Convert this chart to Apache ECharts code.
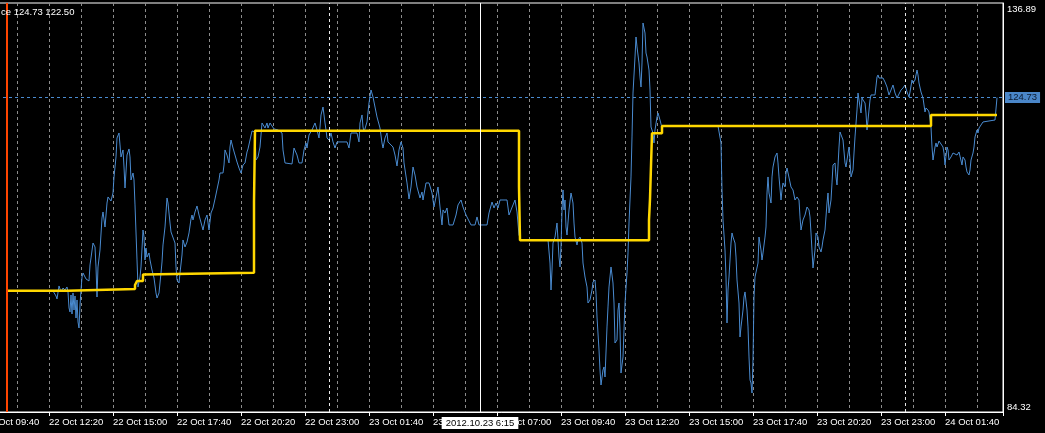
<!DOCTYPE html>
<html><head><meta charset="utf-8">
<script src="https://cdn.jsdelivr.net/npm/echarts@6/dist/echarts.min.js"></script>
<style>html,body{margin:0;padding:0;background:#000;overflow:hidden}#c{width:1045px;height:433px}</style>
</head><body><div id="c"></div>
<script>
// x values: minutes after 22 Oct 09:40 (5-minute bars)
const timeTickLabels = ['22 Oct 09:40','22 Oct 12:20','22 Oct 15:00','22 Oct 17:40','22 Oct 20:20','22 Oct 23:00',
  '23 Oct 01:40','23 Oct 04:20','23 Oct 07:00','23 Oct 09:40','23 Oct 12:20','23 Oct 15:00','23 Oct 17:40',
  '23 Oct 20:20','23 Oct 23:00','24 Oct 01:40'];
const priceLabels = ['84.32', '136.89'];
const daySeparators = [860, 2300];       // 23 Oct 00:00, 24 Oct 00:00
const markerTime = 55;                   // orange vertical marker
const crossTime = 1237.5;                // crosshair
const crossLabel = '2012.10.23 6:15';
const viewEnd = 2545;

// close price line
const closeSeries = [
[170,99.87],[177.5,99.23],[180,98.85],[185,100.52],[190,99.75],[195,100.26],[200,100.00],[205,100.39],[207.5,99.75],[210,97.69],[212.5,97.18],[215,99.36],[217.5,96.92],[220,99.62],[222.5,97.43],[225,99.23],[227.5,96.40],[230,98.72],[232.5,95.89],[235,95.12],[237.5,98.07],[240,100.00],[242.5,101.67],[245,102.19],[250,102.06],[252.5,101.42],[260,101.16],[262.5,103.22],[265,104.12],[270,106.04],[275,105.53],[277.5,102.96],[280,99.10],[282.5,102.96],[287.5,105.14],[292.5,109.26],[295,110.03],[300,108.10],[305,111.18],[307.5,111.96],[312.5,111.96],[315,111.44],[320,112.47],[322.5,114.53],[327.5,117.10],[330,119.54],[335,120.18],[337.5,118.64],[340,117.10],[345,118.00],[347.5,115.81],[350,113.11],[355,117.35],[360,118.13],[362.5,117.10],[365,114.14],[370,115.04],[372.5,114.14],[375,110.93],[380,103.86],[382.5,100.39],[387.5,101.67],[390,102.96],[395,107.71],[397.5,106.81],[400,103.86],[402.5,105.40],[405,104.24],[410,104.76],[412.5,103.86],[417.5,102.57],[422.5,101.54],[427.5,99.62],[430,98.97],[435,99.62],[440,102.19],[442.5,103.60],[445,105.79],[450,108.10],[455,111.83],[457.5,111.18],[462.5,108.61],[465,107.46],[470,107.33],[475,106.04],[477.5,102.96],[480,101.29],[485,100.90],[487.5,102.19],[492.5,104.50],[495,106.43],[500,105.53],[505,106.17],[510,107.33],[515,109.13],[517.5,109.64],[520,109.00],[525,110.03],[530,110.80],[535,109.64],[540,109.39],[545,107.71],[550,109.00],[555,109.64],[560,107.71],[565,109.90],[570,110.54],[575,111.70],[580,111.83],[585,114.14],[587.5,115.04],[595,115.04],[597.5,116.07],[600,118.00],[605,117.35],[610,116.33],[612.5,118.38],[615,119.28],[620,118.25],[625,118.25],[630,116.45],[635,115.68],[640,115.04],[645,116.07],[650,116.33],[655,117.74],[657.5,118.13],[662.5,119.28],[667.5,120.44],[670,120.31],[675,120.31],[677.5,116.71],[682.5,117.10],[687.5,118.38],[692.5,121.47],[695,121.47],[700,120.82],[705,121.47],[707.5,120.82],[712.5,121.47],[717.5,121.47],[722.5,120.70],[732.5,120.57],[742.5,120.18],[745,118.00],[750,116.33],[767.5,116.20],[772.5,118.25],[780,117.35],[785,116.33],[792.5,116.33],[797.5,118.00],[802.5,118.90],[805,118.25],[810,119.92],[817.5,120.57],[825,121.47],[830,120.57],[835,119.54],[837.5,120.95],[840,122.50],[845,123.52],[850,121.47],[852.5,120.57],[855,119.54],[860,119.28],[865,120.18],[870,119.03],[875,118.25],[880,119.03],[905,119.03],[910,118.25],[915,120.18],[930,120.18],[935,119.03],[937.5,121.47],[942.5,122.50],[945,120.95],[947.5,120.31],[952.5,120.31],[955,121.60],[960,124.04],[965,125.71],[970,124.81],[975,123.52],[980,122.24],[987.5,120.82],[992.5,118.90],[995,118.25],[1000,119.54],[1005,120.18],[1007.5,119.03],[1012.5,119.03],[1020,118.38],[1025,117.35],[1030,115.94],[1035,118.00],[1040,119.03],[1045,118.25],[1047.5,116.33],[1055,113.76],[1060,111.70],[1065,113.24],[1070,115.81],[1075,114.78],[1080,113.24],[1087.5,111.83],[1092.5,112.60],[1095,111.57],[1102.5,113.76],[1110,113.76],[1117.5,112.47],[1122.5,110.67],[1127.5,111.96],[1132.5,113.24],[1137.5,110.67],[1142.5,108.36],[1145,110.29],[1150,109.90],[1155,110.54],[1160,108.36],[1170,108.36],[1177.5,109.64],[1182.5,110.93],[1190,111.57],[1195,110.67],[1202.5,109.64],[1207.5,109.39],[1215,108.36],[1225,108.36],[1230,109.39],[1235,108.36],[1255,108.36],[1260,109.90],[1267.5,111.31],[1272.5,110.54],[1277.5,111.18],[1282.5,110.54],[1287.5,111.57],[1305,111.57],[1310,109.64],[1315,110.29],[1320,110.93],[1325,111.57],[1330,110.03],[1335,107.07],[1340,106.43],[1407.5,106.43],[1412.5,103.47],[1415,100.00],[1417.5,102.57],[1420,106.04],[1425,106.81],[1430,108.61],[1435,104.24],[1437.5,102.96],[1440,105.53],[1442.5,110.29],[1445,112.86],[1447.5,110.29],[1450,111.57],[1452.5,108.10],[1455,107.07],[1460,110.29],[1465,112.47],[1470,111.18],[1472.5,108.61],[1475,106.81],[1480,105.79],[1482.5,106.43],[1487.5,106.81],[1492.5,106.04],[1495,103.47],[1500,101.67],[1505,100.39],[1507.5,98.33],[1512.5,98.72],[1517.5,100.00],[1520,101.03],[1525,101.29],[1527.5,99.62],[1530,96.53],[1535,92.29],[1537.5,89.72],[1540,87.79],[1545,89.72],[1547.5,90.11],[1550,88.82],[1555,95.25],[1557.5,97.82],[1560,100.39],[1565,102.96],[1570,100.90],[1572.5,98.33],[1575,93.19],[1580,93.58],[1582.5,97.43],[1585,98.33],[1587.5,94.86],[1590,89.33],[1595,91.39],[1597.5,94.86],[1600,98.33],[1605,102.19],[1607.5,104.76],[1610,108.61],[1615,114.53],[1617.5,119.67],[1620,125.32],[1625,129.95],[1627.5,132.52],[1630,131.24],[1635,129.18],[1637.5,127.38],[1640,126.09],[1642.5,129.18],[1645,134.32],[1650,133.03],[1652.5,130.46],[1655,129.95],[1660,128.28],[1662.5,125.71],[1665,120.95],[1670,120.18],[1672.5,118.90],[1675,120.57],[1680,122.24],[1682.5,122.75],[1687.5,121.85],[1692.5,120.82],[1697.5,121.08],[1832.5,121.08],[1835,120.95],[1840,118.90],[1842.5,112.86],[1845,109.00],[1850,105.14],[1852.5,101.67],[1855,95.76],[1857.5,100.00],[1860,101.67],[1865,106.04],[1867.5,107.33],[1870,106.81],[1875,106.04],[1877.5,104.24],[1880,101.29],[1885,98.33],[1887.5,93.96],[1890,95.25],[1895,97.43],[1897.5,99.10],[1900,99.75],[1905,97.43],[1907.5,95.25],[1910,91.39],[1912.5,88.44],[1915,88.05],[1917.5,86.76],[1920,91.01],[1922.5,99.10],[1925,101.67],[1930,101.67],[1932.5,103.47],[1935,106.81],[1940,105.14],[1942.5,103.86],[1945,104.76],[1950,106.81],[1952.5,108.10],[1955,112.47],[1957.5,114.53],[1960,112.47],[1965,111.18],[1967.5,114.53],[1970,115.81],[1975,117.10],[1980,117.61],[1982.5,116.33],[1985,114.53],[1990,111.57],[1992.5,112.86],[1995,113.76],[2000,113.24],[2002.5,115.04],[2005,115.68],[2010,115.43],[2015,113.24],[2020,112.86],[2025,111.57],[2030,111.96],[2035,111.57],[2037.5,109.39],[2040,107.71],[2045,109.00],[2050,109.64],[2055,110.67],[2060,110.29],[2062.5,109.39],[2065,107.33],[2070,102.83],[2075,105.14],[2077.5,107.33],[2082.5,106.81],[2085,105.53],[2090,104.89],[2092.5,105.53],[2095,106.43],[2100,107.71],[2105,111.18],[2107.5,112.47],[2110,109.90],[2115,111.57],[2117.5,113.76],[2120,116.07],[2125,116.33],[2127.5,114.53],[2130,113.50],[2135,118.38],[2137.5,120.31],[2142.5,120.31],[2145,119.28],[2150,116.33],[2152.5,115.81],[2155,116.71],[2160,118.38],[2162.5,116.71],[2165,114.53],[2170,115.43],[2172.5,117.61],[2175,119.67],[2180,123.14],[2182.5,125.32],[2185,124.42],[2190,122.75],[2192.5,124.68],[2195,124.42],[2200,124.04],[2202.5,122.75],[2205,120.57],[2210,123.14],[2212.5,124.42],[2215,125.07],[2225,125.07],[2230,127.38],[2232.5,127.64],[2235,127.25],[2245,127.25],[2250,126.74],[2255,126.09],[2260,125.07],[2265,125.71],[2270,126.35],[2275,125.32],[2280,124.68],[2285,124.81],[2290,125.71],[2295,125.97],[2300,126.35],[2305,125.45],[2310,124.81],[2312.5,125.45],[2317.5,126.99],[2320,126.61],[2325,126.99],[2330,128.28],[2332.5,127.64],[2335,126.61],[2340,125.45],[2345,124.68],[2350,122.88],[2352.5,123.40],[2357.5,123.14],[2360,122.88],[2365,120.95],[2367.5,118.38],[2370,116.71],[2375,118.38],[2377.5,118.90],[2380,118.38],[2385,119.15],[2390,119.28],[2395,118.38],[2397.5,117.61],[2400,116.07],[2405,118.38],[2407.5,118.00],[2410,116.71],[2415,117.10],[2420,117.61],[2425,117.61],[2430,117.35],[2435,117.74],[2440,117.61],[2442.5,116.07],[2445,117.10],[2450,116.71],[2452.5,115.81],[2455,115.17],[2460,114.78],[2462.5,115.43],[2465,116.71],[2470,117.61],[2472.5,118.38],[2475,119.67],[2480,120.57],[2482.5,120.18],[2485,120.82],[2490,121.21],[2495,121.60],[2500,121.85],[2525,121.85],[2530,124.73]
];

// yellow step indicator
const levelSeries = [
[57.5,99.91],[207.5,100.13],[375,100.64],[380,101.16],[395,102.00],[400,102.23],[672.5,111.35],[675,120.48],
[1335,113.28],[1337.5,106.39],[1660,109.00],[1662.5,111.70],[1665,115.98],[1667.5,120.14],[1692.5,121.08],
[2365,122.50],[2530,122.50]
];

const yMin = parseFloat(priceLabels[0]);
const yMax = parseFloat(priceLabels[1]);
const lastClose = closeSeries[closeSeries.length - 1][1];
const lastLevel = levelSeries[levelSeries.length - 1][1];
const FONT = 'Liberation Sans';
const FS = 9.5;

const chart = echarts.init(document.getElementById('c'), null, {renderer: 'canvas'});
chart.setOption({
  backgroundColor: '#000',
  animation: false,
  title: {
    text: 'ce ' + lastClose.toFixed(2) + ' ' + lastLevel.toFixed(2),
    left: 1, top: 7, padding: 0,
    textStyle: {color: '#fff', fontSize: FS, fontWeight: 'normal', fontFamily: FONT}
  },
  grid: {left: -15, right: 42, top: 3, bottom: 21, show: true, borderColor: '#fff', borderWidth: 1,
         backgroundColor: '#000', containLabel: false, outerBoundsMode: 'none'},
  xAxis: [
    {type: 'value', min: 0, max: viewEnd, interval: 80,
     axisLine: {show: false}, axisTick: {show: false}, axisLabel: {show: false},
     splitLine: {show: true, lineStyle: {color: '#8c8c8c', type: [3, 3], width: 1}}},
    {type: 'value', min: 0, max: viewEnd, interval: 160, position: 'bottom',
     axisLine: {show: true, onZero: false, lineStyle: {color: '#fff', width: 1}},
     axisTick: {show: true, length: 4, lineStyle: {color: '#fff'}},
     splitLine: {show: false},
     axisLabel: {show: true, color: '#fff', fontSize: FS, fontFamily: FONT, align: 'left', margin: 5,
       showMinLabel: true, showMaxLabel: true,
       formatter: function (v) {
         const i = Math.round(v / 160);
         if (Math.abs(v - i * 160) > 1e-6) return '';
         return timeTickLabels[i] || '';
       }}}
  ],
  yAxis: {
    type: 'value', position: 'right', min: yMin, max: yMax, scale: true,
    axisLine: {show: true, onZero: false, lineStyle: {color: '#fff'}},
    axisTick: {show: false}, splitLine: {show: false},
    axisLabel: {show: true, color: '#fff', fontSize: FS, fontFamily: FONT, margin: 4,
      showMinLabel: true, showMaxLabel: true,
      formatter: function (v) {
        if (Math.abs(v - yMax) < 1e-6) return '{hi|' + priceLabels[1] + '}';
        if (Math.abs(v - yMin) < 1e-6) return '{lo|' + priceLabels[0] + '}';
        return '';
      },
      rich: {
        hi: {color: '#fff', fontSize: FS, fontFamily: FONT, padding: [12, 0, 0, 0]},
        lo: {color: '#fff', fontSize: FS, fontFamily: FONT, padding: [0, 0, 10, 0]}
      }}
  },
  series: [
    {
      name: 'Close', type: 'line', xAxisIndex: 0, data: closeSeries,
      showSymbol: false, symbol: 'none', z: 2,
      lineStyle: {color: '#4a8bd0', width: 1},
      markLine: {
        silent: true, symbol: ['none', 'none'], animation: false,
        label: {show: false},
        data: daySeparators.map(t => ({xAxis: t, lineStyle: {color: '#e8e8e8', type: [3, 3], width: 1}}))
      }
    },
    {
      name: 'Level', type: 'line', xAxisIndex: 0, data: levelSeries, step: 'end',
      showSymbol: false, symbol: 'none', z: 3,
      lineStyle: {color: '#ffd700', width: 2.5},
      markLine: {
        silent: true, symbol: ['none', 'none'], animation: false,
        data: [
          {xAxis: markerTime, lineStyle: {color: '#ff4500', type: 'solid', width: 2}, label: {show: false}},
          {yAxis: lastClose, lineStyle: {color: '#4a8bd0', type: [3, 3], width: 1},
           label: {show: true, position: 'end', distance: 2, formatter: lastClose.toFixed(2),
                   color: '#0b1a30', backgroundColor: '#4a86c8', padding: [1, 3, 0, 3],
                   fontSize: FS, fontFamily: FONT, lineHeight: 10}},
          {xAxis: crossTime, lineStyle: {color: '#fff', type: 'solid', width: 1},
           label: {show: true, position: 'start', distance: 5, formatter: crossLabel,
                   color: '#000', backgroundColor: '#fff', padding: [1, 4, 1, 4],
                   fontSize: FS, fontFamily: FONT}}
        ]
      }
    }
  ]
});
</script></body></html>
